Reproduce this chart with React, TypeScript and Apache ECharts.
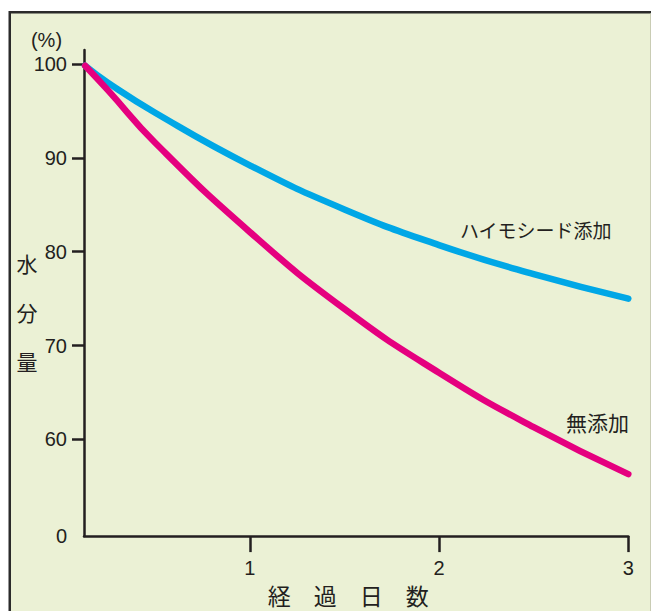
import React, { useEffect, useRef } from "react";
import * as echarts from "echarts";

// ---- data ----
const days = [0.13, 0.25, 0.5, 1, 1.5, 2, 2.5, 3];
const haimoseedValues = [99.8, 98.0, 94.8, 89.2, 84.5, 80.7, 77.6, 75.0];
const mutenkaValues = [99.8, 97.2, 91.6, 82.1, 73.9, 67.1, 61.3, 56.3];
const yTickValues = [60, 70, 80, 90, 100];
const yLabelValues = [49.7, 60, 70, 80, 90, 100];
const xTickValues = [1, 2, 3];
const seriesNames = ["ハイモシード添加", "無添加"];
const xAxisTitle = "経　過　日　数";
const yAxisTitleChars = ["水", "分", "量"];
const unitText = "(%)";

const X_MIN = 0.124;
const X_MAX = 3;
const Y_MIN = 49.7;
const Y_MAX = 101.48;

const FONT = "'Liberation Sans', Arial, 'Noto Sans CJK JP', sans-serif";
const CJK = "'Noto Sans CJK JP', 'Liberation Sans', sans-serif";
const INK = "#231f20";
const BLUE = "#00a7e6";
const PINK = "#e5007f";
const PAPER = "#ebf1d5";
const FRAME = "#2b2b2b";

export default function App() {
  const ref = useRef<HTMLDivElement>(null);

  useEffect(() => {
    document.body.style.margin = "0";
    if (!ref.current) return;
    const chart = echarts.init(ref.current, undefined, { renderer: "svg" });
    const toPairs = (vals: number[]) => days.map((d, i) => [d, vals[i]]);
    const yTitlePos = [262.5, 312, 360.5];

    const textEl = (
      text: string,
      x: number,
      y: number,
      fontSize: number,
      family: string,
      align: string
    ) => ({
      type: "text",
      x,
      y,
      z: 10,
      style: {
        text,
        fontSize,
        fontFamily: family,
        fill: INK,
        textAlign: align,
        textVerticalAlign: "middle",
        verticalAlign: "middle",
      },
    });

    chart.setOption({
      animation: false,
      grid: { left: 84, right: 22.7, top: 50, bottom: 70.3 },
      xAxis: {
        type: "value",
        min: X_MIN,
        max: X_MAX,
        name: xAxisTitle,
        nameLocation: "middle",
        nameGap: 42,
        nameTextStyle: {
          fontSize: 23,
          fontFamily: CJK,
          color: INK,
          padding: [0, 16, 0, 0],
        },
        axisLine: { show: true, lineStyle: { color: INK, width: 2.5 } },
        axisTick: {
          show: true,
          length: 16,
          customValues: xTickValues,
          lineStyle: { color: INK, width: 2.5 },
        },
        axisLabel: {
          customValues: xTickValues,
          margin: 22,
          fontSize: 20,
          fontFamily: FONT,
          color: INK,
        },
        splitLine: { show: false },
      },
      yAxis: {
        type: "value",
        min: Y_MIN,
        max: Y_MAX,
        axisLine: { show: true, lineStyle: { color: INK, width: 2.5 } },
        axisTick: {
          show: true,
          length: 12,
          customValues: yTickValues,
          lineStyle: { color: INK, width: 2.5 },
        },
        axisLabel: {
          customValues: yLabelValues,
          margin: 17,
          fontSize: 20,
          fontFamily: FONT,
          color: INK,
          formatter: (v: number) => (v < 55 ? "0" : String(Math.round(v))),
        },
        splitLine: { show: false },
      },
      series: [
        {
          name: seriesNames[0],
          type: "line",
          data: toPairs(haimoseedValues),
          smooth: 0.5,
          symbol: "none",
          lineStyle: { color: BLUE, width: 6.5, cap: "round" },
        },
        {
          name: seriesNames[1],
          type: "line",
          data: toPairs(mutenkaValues),
          smooth: 0.5,
          symbol: "none",
          lineStyle: { color: PINK, width: 6.5, cap: "round" },
        },
      ],
      graphic: [
        {
          type: "rect",
          z: -10,
          silent: true,
          shape: { x: 9, y: 11.5, width: 642, height: 600 },
          style: { fill: PAPER },
        },
        {
          type: "line",
          z: -9,
          silent: true,
          shape: { x1: 9.75, y1: 12.25, x2: 651, y2: 12.25 },
          style: { stroke: FRAME, lineWidth: 2.5 },
        },
        {
          type: "line",
          z: -9,
          silent: true,
          shape: { x1: 9.75, y1: 11, x2: 9.75, y2: 611 },
          style: { stroke: FRAME, lineWidth: 2.5 },
        },
        {
          type: "line",
          z: -9,
          silent: true,
          shape: { x1: 650.5, y1: 13.5, x2: 650.5, y2: 611 },
          style: { stroke: "#c9ccb4", lineWidth: 1 },
        },
        textEl(unitText, 46.5, 39.5, 20, FONT, "center"),
        ...yAxisTitleChars.map((ch, i) => textEl(ch, 27, yTitlePos[i], 21, CJK, "center")),
        textEl(seriesNames[0], 460, 229.5, 19, CJK, "left"),
        textEl(seriesNames[1], 566, 422, 21, CJK, "left"),
      ],
    });

    return () => chart.dispose();
  }, []);

  return <div ref={ref} style={{ width: 651, height: 611 }} />;
}
